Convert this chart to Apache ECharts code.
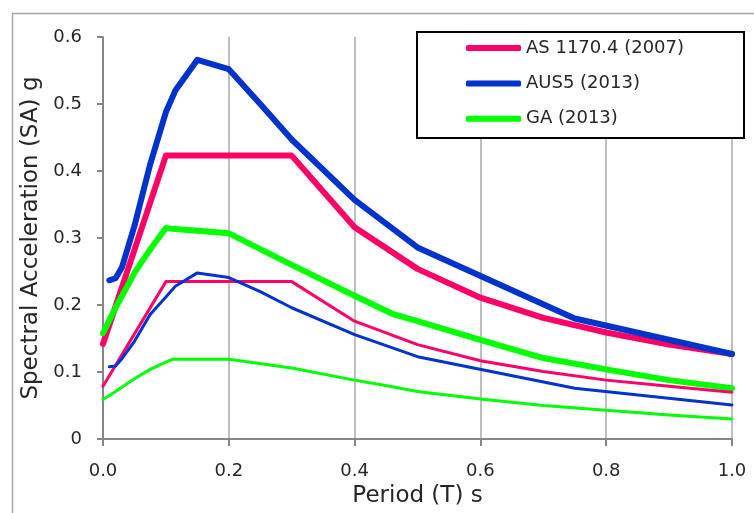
<!DOCTYPE html>
<html>
<head>
<meta charset="utf-8">
<script src="https://cdn.jsdelivr.net/npm/echarts@6/dist/echarts.min.js"></script>
<style>
  html, body { margin: 0; padding: 0; background: #fff; }
  #chart { width: 754px; height: 513px; }
</style>
</head>
<body>
<div id="chart"></div>
<script>
var seriesNames = ['AS 1170.4 (2007)', 'AUS5 (2013)', 'GA (2013)'];

// AS 1170.4 spectra
var asPeriods = [0, 0.1, 0.2, 0.3, 0.4, 0.5, 0.6, 0.7, 0.8, 0.9, 1.0];
var asUpper = [0.142, 0.423, 0.423, 0.423, 0.316, 0.254, 0.211, 0.181, 0.159, 0.141, 0.127];
var asLower = [0.079, 0.235, 0.235, 0.235, 0.176, 0.141, 0.117, 0.101, 0.088, 0.079, 0.070];

// AUS5 spectra
var ausPeriods = [0.01, 0.02, 0.03, 0.05, 0.075, 0.1, 0.115, 0.15, 0.2, 0.25, 0.3, 0.4, 0.5, 0.75, 1.0];
var ausUpper = [0.237, 0.240, 0.256, 0.318, 0.410, 0.488, 0.520, 0.566, 0.552, 0.500, 0.447, 0.357, 0.286, 0.180, 0.127];
var ausLower = [0.108, 0.109, 0.120, 0.146, 0.186, 0.212, 0.228, 0.248, 0.241, 0.220, 0.196, 0.156, 0.123, 0.076, 0.051];

// GA spectra
var gaPeriods = [0, 0.02, 0.05, 0.075, 0.1, 0.11, 0.15, 0.2, 0.3, 0.4, 0.46, 0.5, 0.6, 0.7, 0.8, 0.9, 1.0];
var gaUpper = [0.158, 0.196, 0.248, 0.283, 0.315, 0.314, 0.311, 0.307, 0.260, 0.214, 0.187, 0.176, 0.148, 0.121, 0.104, 0.088, 0.076];
var gaLower = [0.059, 0.071, 0.090, 0.104, 0.115, 0.119, 0.119, 0.119, 0.106, 0.088, 0.078, 0.071, 0.060, 0.050, 0.043, 0.036, 0.030];

var colors = ['#ff0066', '#0033cc', '#00ff00'];
var font = 'DejaVu Sans';
var textColor = '#262626';

function pairs(xs, ys) {
    return xs.map(function (x, i) { return [x, ys[i]]; });
}

function line(name, xs, ys, color, width) {
    return {
        name: name,
        type: 'line',
        data: pairs(xs, ys),
        symbol: 'none',
        smooth: false,
        animation: false,
        lineStyle: { color: color, width: width, cap: 'round', join: 'round' },
        itemStyle: { color: color }
    };
}

var chart = echarts.init(document.getElementById('chart'));
var option = {
    backgroundColor: '#fff',
    color: colors,
    grid: { left: 103, right: 22, top: 37, bottom: 66 },
    graphic: [
        {
            type: 'rect', left: 10, top: 11, z: -10,
            shape: { width: 800, height: 600 },
            style: { fill: 'none', stroke: '#a6a6a6', lineWidth: 1.5 }
        },
        {
            type: 'rect', left: 416, top: 31, z: 10,
            shape: { width: 327, height: 106 },
            style: { fill: '#fff', stroke: '#000', lineWidth: 2 }
        }
    ],
    legend: {
        data: seriesNames,
        orient: 'vertical',
        left: 466,
        top: 39,
        padding: 0,
        z: 20,
        icon: 'roundRect',
        itemWidth: 55,
        itemHeight: 6,
        itemGap: 17.4,
        itemStyle: { borderWidth: 0 },
        textStyle: { fontFamily: font, fontSize: 18, color: textColor }
    },
    xAxis: {
        type: 'value',
        min: 0,
        max: 1,
        interval: 0.2,
        name: 'Period (T) s',
        nameLocation: 'middle',
        nameGap: 43,
        nameTextStyle: { fontFamily: font, fontSize: 23, color: textColor },
        axisLine: { lineStyle: { color: '#868686', width: 2 } },
        axisTick: { show: true, length: 7, lineStyle: { color: '#868686', width: 2 } },
        axisLabel: {
            fontFamily: font, fontSize: 18, color: textColor, margin: 23,
            formatter: function (v) { return v.toFixed(1); }
        },
        splitLine: { show: true, lineStyle: { color: '#bfbfbf', width: 2 } }
    },
    yAxis: {
        type: 'value',
        min: 0,
        max: 0.6,
        interval: 0.1,
        name: 'Spectral Acceleration (SA) g',
        nameLocation: 'middle',
        nameGap: 57,
        nameTextStyle: { fontFamily: font, fontSize: 23, color: textColor },
        axisLine: { show: true, lineStyle: { color: '#868686', width: 2 } },
        axisTick: { show: true, length: 6, lineStyle: { color: '#868686', width: 2 } },
        axisLabel: { fontFamily: font, fontSize: 18, color: textColor, margin: 21 },
        splitLine: { show: false }
    },
    series: [
        line(seriesNames[0], asPeriods, asUpper, colors[0], 6),
        line(seriesNames[1], ausPeriods, ausUpper, colors[1], 6),
        line(seriesNames[2], gaPeriods, gaUpper, colors[2], 6),
        line(seriesNames[0], asPeriods, asLower, colors[0], 3),
        line(seriesNames[1], ausPeriods, ausLower, colors[1], 3),
        line(seriesNames[2], gaPeriods, gaLower, colors[2], 3)
    ]
};
chart.setOption(option);
</script>
</body>
</html>
